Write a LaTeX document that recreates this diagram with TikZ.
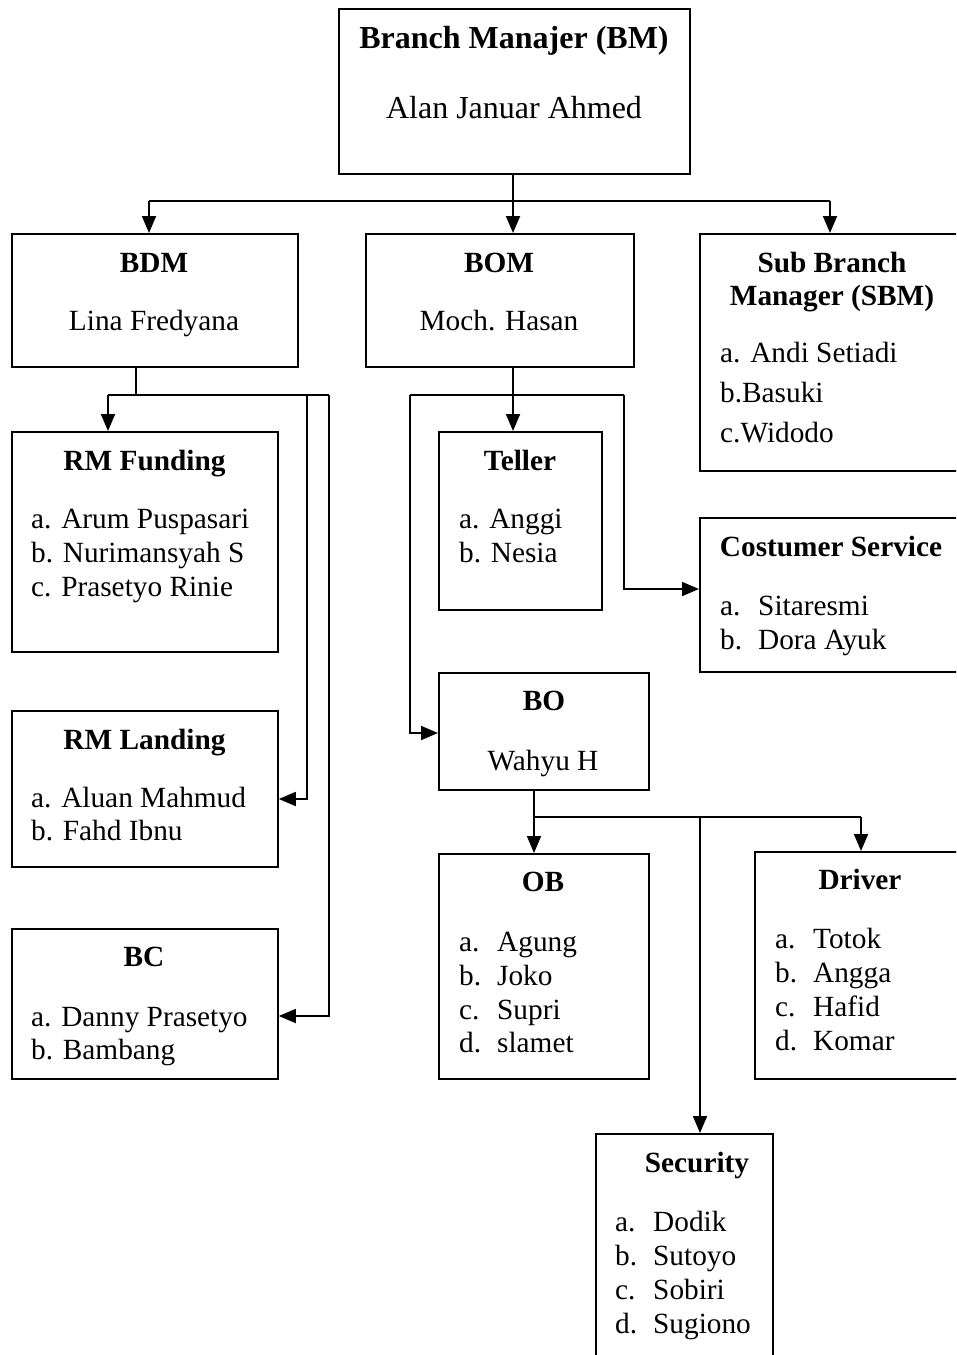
\documentclass[tikz,border=0pt]{standalone}
\usepackage{fontspec}
\setmainfont{Liberation Serif}
\usetikzlibrary{arrows.meta}
\begin{document}
\begin{tikzpicture}[x=1pt,y=-1pt,
  box/.style={draw, line width=1.8pt, inner sep=0pt, anchor=north west},
  line/.style={line width=1.8pt},
  arr/.style={line width=1.8pt, -{Triangle[length=17pt,width=14pt]}},
  ttl/.style={inner sep=0pt, anchor=base, font=\bfseries\fontsize{29.3}{34}\selectfont},
  nm/.style={inner sep=0pt, anchor=base, font=\fontsize{29.3}{34}\selectfont},
  itm/.style={inner sep=0pt, anchor=base west, font=\fontsize{29.3}{34}\selectfont},
]
\path[use as bounding box] (0,0) rectangle (956,1355);
\clip (0,0) rectangle (956,1355);

% boxes
\node[box, minimum width=351, minimum height=165] (bm) at (338,8) {};
\node[box, minimum width=286, minimum height=133] (bdm) at (11,233) {};
\node[box, minimum width=268, minimum height=133] (bom) at (365,233) {};
\node[box, minimum width=270, minimum height=237] (sbm) at (699,233) {};
\node[box, minimum width=266, minimum height=220] (rmf) at (11,431) {};
\node[box, minimum width=266, minimum height=156] (rml) at (11,710) {};
\node[box, minimum width=266, minimum height=150] (bc) at (11,928) {};
\node[box, minimum width=163, minimum height=178] (tel) at (438,431) {};
\node[box, minimum width=270, minimum height=154] (cs) at (699,517) {};
\node[box, minimum width=210, minimum height=117] (bo) at (438,672) {};
\node[box, minimum width=210, minimum height=225] (ob) at (438,853) {};
\node[box, minimum width=215, minimum height=227] (drv) at (754,851) {};
\node[box, minimum width=177, minimum height=240] (sec) at (595,1133) {};

% texts
\node[ttl, font=\bfseries\fontsize{32}{36}\selectfont] (tbm) at (514,48) {Branch Manajer (BM)};
\node[nm, font=\fontsize{32}{36}\selectfont] (nbm) at (514,118) {Alan Januar Ahmed};

\node[ttl] (tbdm) at (154,272) {BDM};
\node[nm] (nbdm) at (154,330) {Lina Fredyana};

\node[ttl] (tbom) at (499,272) {BOM};
\node[nm] (nbom) at (499,330) {Moch. Hasan};

\node[ttl] (tsbm1) at (832,272) {Sub Branch};
\node[ttl] (tsbm2) at (832,305) {Manager (SBM)};
\node[itm] (s1) at (720,362) {a. Andi Setiadi};
\node[itm] (s2) at (720,402) {b.Basuki};
\node[itm] (s3) at (720,442) {c.Widodo};

\node[ttl] (trmf) at (144.5,470) {RM Funding};
\node[itm] (f1) at (31,528) {a. Arum Puspasari};
\node[itm] (f2) at (31,562) {b. Nurimansyah S};
\node[itm] (f3) at (31,596) {c. Prasetyo Rinie};

\node[ttl] (trml) at (144.5,749) {RM Landing};
\node[itm] (l1) at (31,807) {a. Aluan Mahmud};
\node[itm] (l2) at (31,840) {b. Fahd Ibnu};

\node[ttl] (tbc) at (144,966) {BC};
\node[itm] (c1) at (31,1026) {a. Danny Prasetyo};
\node[itm] (c2) at (31,1059) {b. Bambang};

\node[ttl] (ttel) at (520,470) {Teller};
\node[itm] (t1) at (459,528) {a. Anggi};
\node[itm] (t2) at (459,562) {b. Nesia};

\node[ttl] (tcs) at (831,556) {Costumer Service};
\node[itm] (cs1) at (720,615) {\makebox[38pt][l]{a.}Sitaresmi};
\node[itm] (cs2) at (720,649) {\makebox[38pt][l]{b.}Dora Ayuk};

\node[ttl] (tbo) at (544,710) {BO};
\node[nm] (nbo) at (543,770) {Wahyu H};

\node[ttl] (tob) at (543,891) {OB};
\node[itm] (o1) at (459,951) {\makebox[38pt][l]{a.}Agung};
\node[itm] (o2) at (459,985) {\makebox[38pt][l]{b.}Joko};
\node[itm] (o3) at (459,1019) {\makebox[38pt][l]{c.}Supri};
\node[itm] (o4) at (459,1052) {\makebox[38pt][l]{d.}slamet};

\node[ttl] (tdrv) at (860,889) {Driver};
\node[itm] (d1) at (775,948) {\makebox[38pt][l]{a.}Totok};
\node[itm] (d2) at (775,982) {\makebox[38pt][l]{b.}Angga};
\node[itm] (d3) at (775,1016) {\makebox[38pt][l]{c.}Hafid};
\node[itm] (d4) at (775,1050) {\makebox[38pt][l]{d.}Komar};

\node[ttl] (tsec) at (697,1172) {Security};
\node[itm] (se1) at (615,1231) {\makebox[38pt][l]{a.}Dodik};
\node[itm] (se2) at (615,1265) {\makebox[38pt][l]{b.}Sutoyo};
\node[itm] (se3) at (615,1299) {\makebox[38pt][l]{c.}Sobiri};
\node[itm] (se4) at (615,1333) {\makebox[38pt][l]{d.}Sugiono};

% connectors: BM
\coordinate (jbm) at (513,201);
\coordinate (jbmL) at (149,201);
\coordinate (jbmR) at (830,201);
\draw[line] (jbm |- bm.south) -- (jbm);
\draw[line] (jbmL) -- (jbmR);
\draw[arr] (jbmL) -- (jbmL |- bdm.north);
\draw[arr] (jbm) -- (jbm |- bom.north);
\draw[arr] (jbmR) -- (jbmR |- sbm.north);

% connectors: BDM
\coordinate (jbdm) at (136,395);
\coordinate (jbdmL) at (108,395);
\coordinate (jbdmA) at (307,395);
\coordinate (jbdmB) at (329,395);
\draw[line] (jbdm |- bdm.south) -- (jbdm);
\draw[line] (jbdmL) -- (jbdmB);
\draw[arr] (jbdmL) -- (jbdmL |- rmf.north);
\coordinate (kA) at (307,799);
\coordinate (kB) at (329,1016);
\draw[arr] (jbdmA) -- (kA) -- (kA -| rml.east);
\draw[arr] (jbdmB) -- (kB) -- (kB -| bc.east);

% connectors: BOM
\coordinate (jbom) at (513,395);
\coordinate (jbomL) at (410,395);
\coordinate (jbomR) at (624,395);
\draw[arr] (jbom |- bom.south) -- (jbom |- tel.north);
\draw[line] (jbomL) -- (jbomR);
\coordinate (kL) at (410,733);
\coordinate (kR) at (624,589);
\draw[arr] (jbomL) -- (kL) -- (kL -| bo.west);
\draw[arr] (jbomR) -- (kR) -- (kR -| cs.west);

% connectors: BO
\coordinate (jbo) at (534,817);
\coordinate (jboR) at (861,817);
\coordinate (jboS) at (700,817);
\draw[line] (jbo |- bo.south) -- (jbo) -- (jboR);
\draw[arr] (jbo) -- (jbo |- ob.north);
\draw[arr] (jboR) -- (jboR |- drv.north);
\draw[arr] (jboS) -- (jboS |- sec.north);
\end{tikzpicture}
\end{document}
